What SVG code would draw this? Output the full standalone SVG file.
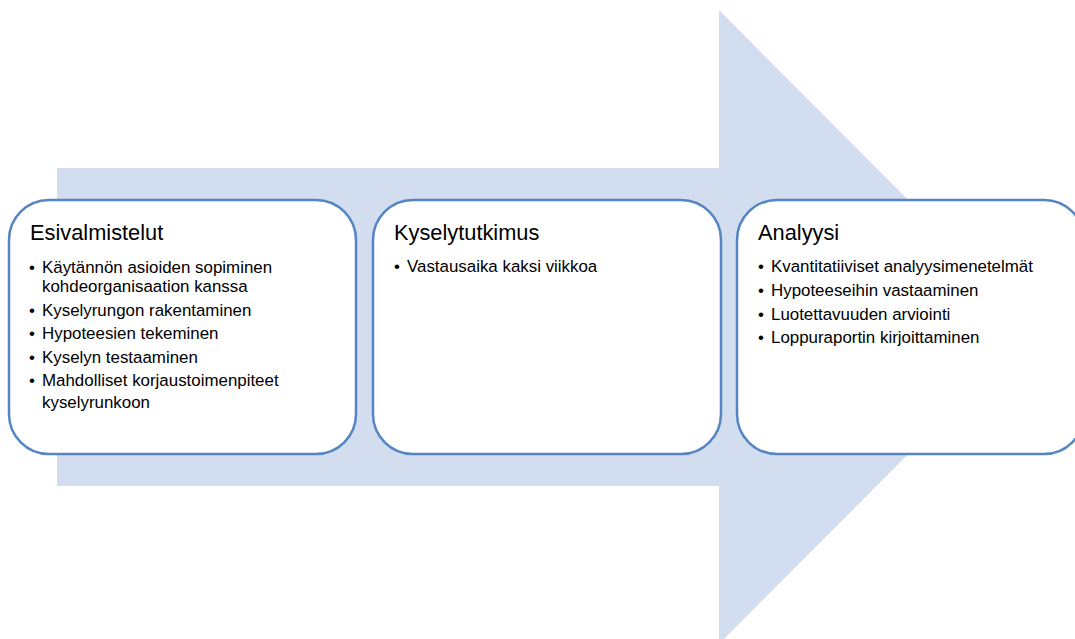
<svg xmlns="http://www.w3.org/2000/svg" width="1075" height="639" viewBox="0 0 1075 639">
<style>
.box{fill:#ffffff;stroke:#5585c2;stroke-width:2.5}
.t{font-family:"Liberation Sans",Arial,sans-serif;font-size:21.8px;fill:#000}
.b{font-family:"Liberation Sans",Arial,sans-serif;font-size:16.9px;fill:#000}
</style>
<rect width="1075" height="639" fill="#ffffff"/>
<g id="arrow">
<polygon points="57,168 719,168 719,10 1035,327 719,644 719,486 57,486" fill="#d2ddef"/>
</g>
<g id="connectors"/>
<g id="node-esivalmistelut">
<rect class="box" x="9" y="200" width="347" height="254" rx="40" ry="40"/>
<text class="t" x="30" y="240">Esivalmistelut</text>
<text class="b"><tspan x="29" y="273">•</tspan><tspan x="42" y="273">Käytännön asioiden sopiminen</tspan><tspan x="42" y="292">kohdeorganisaation kanssa</tspan><tspan x="29" y="316">•</tspan><tspan x="42" y="316">Kyselyrungon rakentaminen</tspan><tspan x="29" y="339">•</tspan><tspan x="42" y="339">Hypoteesien tekeminen</tspan><tspan x="29" y="363">•</tspan><tspan x="42" y="363">Kyselyn testaaminen</tspan><tspan x="29" y="386">•</tspan><tspan x="42" y="386">Mahdolliset korjaustoimenpiteet</tspan><tspan x="42" y="408">kyselyrunkoon</tspan></text>
</g>
<g id="node-kyselytutkimus">
<rect class="box" x="373" y="200" width="348" height="254" rx="40" ry="40"/>
<text class="t" x="394" y="240">Kyselytutkimus</text>
<text class="b"><tspan x="394" y="272">•</tspan><tspan x="407" y="272">Vastausaika kaksi viikkoa</tspan></text>
</g>
<g id="node-analyysi">
<rect class="box" x="737" y="200" width="347" height="254" rx="40" ry="40"/>
<text class="t" x="758" y="240">Analyysi</text>
<text class="b"><tspan x="758" y="272">•</tspan><tspan x="771" y="272">Kvantitatiiviset analyysimenetelmät</tspan><tspan x="758" y="296">•</tspan><tspan x="771" y="296">Hypoteeseihin vastaaminen</tspan><tspan x="758" y="320">•</tspan><tspan x="771" y="320">Luotettavuuden arviointi</tspan><tspan x="758" y="343">•</tspan><tspan x="771" y="343">Loppuraportin kirjoittaminen</tspan></text>
</g>
</svg>
